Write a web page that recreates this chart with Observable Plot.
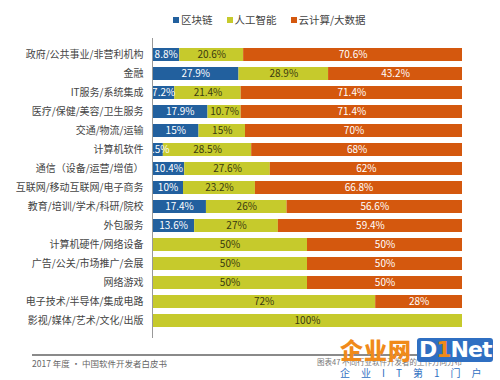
<!DOCTYPE html>
<html>
<head>
<meta charset="utf-8">
<script src="https://cdn.jsdelivr.net/npm/d3@7"></script>
<script src="https://cdn.jsdelivr.net/npm/@observablehq/plot@0.6"></script>
<style>
  body { margin: 0; background: #fff; font-family: "Noto Sans CJK SC", "Noto Sans", sans-serif; }
  #wrap { position: relative; width: 500px; height: 380px; overflow: hidden; }
  #legend { position: absolute; left: 173px; top: 12px; display: flex; gap: 14px; font-size: 10.5px; color: #444; }
  #legend span.sw { display: inline-block; width: 6px; height: 6px; margin-right: 2px; vertical-align: 1px; }
  #chart { position: absolute; left: 0; top: 38px; }
  #rule { position: absolute; left: 32px; top: 354px; width: 420px; height: 2px; background: #8a8a8a; }
  #foot1 { position: absolute; left: 32px; top: 357px; font-size: 8.5px; color: #666; }
  #foot2 { position: absolute; left: 317px; top: 358px; font-size: 7.5px; line-height: 8px; color: #777; }
  #wm1 { position: absolute; left: 340px; top: 336px; font-size: 23px; line-height: 26px; font-weight: 900; color: #f08a1a; letter-spacing: 1px; }
  #wm2 { position: absolute; left: 417px; top: 338px; height: 24px; line-height: 24px; padding: 0 2px; font-size: 22px; font-weight: bold; color: #fff; background: #2f6fc2; border-radius: 3px; font-family: "DejaVu Sans", sans-serif; letter-spacing: -1px; }
  #wm2 span { color: #f08a1a; }
  #wm3 { position: absolute; left: 340px; top: 367px; font-size: 10px; line-height: 12px; color: #2f6fc2; letter-spacing: 11px; white-space: nowrap; }
</style>
</head>
<body>
<div id="wrap">
  <div id="legend"></div>
  <div id="chart"></div>
  <div id="rule"></div>
  <div id="foot1">2017 年度 · 中国软件开发者白皮书</div>
  <div id="foot2">图表47 不同行业软件开发者的工作方向分布</div>
  <div id="wm1">企业网</div>
  <div id="wm2">D<span>1</span>Net</div>
  <div id="wm3">企业IT第1门户</div>
</div>
<script>
const categories = [
  "政府/公共事业/非营利机构",
  "金融",
  "IT服务/系统集成",
  "医疗/保健/美容/卫生服务",
  "交通/物流/运输",
  "计算机软件",
  "通信（设备/运营/增值）",
  "互联网/移动互联网/电子商务",
  "教育/培训/学术/科研/院校",
  "外包服务",
  "计算机硬件/网络设备",
  "广告/公关/市场推广/会展",
  "网络游戏",
  "电子技术/半导体/集成电路",
  "影视/媒体/艺术/文化/出版"
];
const seriesNames = ["区块链", "人工智能", "云计算/大数据"];
const blockchain = [8.8, 27.9, 7.2, 17.9, 15, 3.5, 10.4, 10, 17.4, 13.6, 0, 0, 0, 0, 0];
const ai         = [20.6, 28.9, 21.4, 10.7, 15, 28.5, 27.6, 23.2, 26, 27, 50, 50, 50, 72, 100];
const cloud      = [70.6, 43.2, 71.4, 71.4, 70, 68, 62, 66.8, 56.6, 59.4, 50, 50, 50, 28, 0];
const colors = ["#22609e", "#c6ca2c", "#d4580e"];
const textColors = ["#ffffff", "#3a3a10", "#ffffff"];

const seriesValues = [blockchain, ai, cloud];
const table = [];
categories.forEach((c, i) => {
  seriesValues.forEach((vals, s) => {
    table.push({category: c, series: seriesNames[s], value: vals[i]});
  });
});
const visible = table.filter(d => d.value > 0);

const lg = document.getElementById("legend");
seriesNames.forEach((n, i) => {
  const item = document.createElement("div");
  item.innerHTML = `<span class="sw" style="background:${colors[i]}"></span>${n}`;
  lg.appendChild(item);
});

const chart = Plot.plot({
  width: 500,
  height: 306,
  marginLeft: 152,
  marginRight: 38,
  marginTop: 0,
  marginBottom: 6,
  style: {fontFamily: "'Noto Sans CJK SC', sans-serif", fontSize: "10px", color: "#444"},
  x: {domain: [0, 100], axis: null},
  y: {domain: categories, padding: 0.3, label: null, tickSize: 0, tickPadding: 9},
  color: {domain: seriesNames, range: colors},
  marks: [
    Plot.barX(visible, Plot.stackX({x: "value", y: "category", fill: "series"})),
    Plot.text(visible, Plot.stackX({
      x: "value", y: "category", text: d => d.value + "%",
      fill: d => textColors[seriesNames.indexOf(d.series)],
      fontSize: 10
    })),
    Plot.ruleX([0], {stroke: "#999", strokeWidth: 1, insetTop: -2})
  ]
});
document.getElementById("chart").appendChild(chart);
</script>
</body>
</html>
